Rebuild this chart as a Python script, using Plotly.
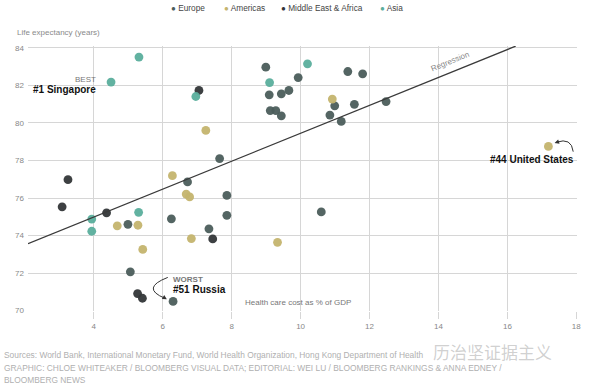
import plotly.graph_objects as go

# ---- data ----
categories = ["Europe", "Americas", "Middle East & Africa", "Asia"]
colors = ["#4b5d5b", "#c4b46e", "#333638", "#5aae9c"]

europe_x = [8.99, 9.93, 9.66, 9.44, 9.09, 9.12, 9.28, 9.44, 11.37, 11.80, 10.99, 11.56, 10.85,
            11.18, 12.48, 7.65, 6.72, 7.86, 6.25, 7.86, 4.99, 7.34, 5.06, 10.60, 6.30]
europe_y = [82.97, 82.42, 81.73, 81.55, 81.50, 80.66, 80.66, 80.38, 82.74, 82.62, 80.91, 80.99, 80.42,
            80.08, 81.14, 78.10, 76.86, 76.14, 74.89, 75.08, 74.60, 74.36, 72.07, 75.26, 70.49]

americas_x = [10.92, 7.25, 6.28, 6.68, 6.78, 4.68, 5.28, 5.42, 6.83, 9.33, 17.19]
americas_y = [81.27, 79.60, 77.19, 76.21, 76.06, 74.52, 74.55, 73.26, 73.84, 73.64, 78.75]

mea_x = [7.05, 3.25, 3.08, 4.37, 7.45, 5.27, 5.41]
mea_y = [81.73, 76.98, 75.53, 75.21, 73.82, 70.91, 70.66]

asia_x = [5.31, 4.50, 6.96, 9.10, 10.20, 5.30, 3.94, 3.94]
asia_y = [83.51, 82.18, 81.41, 82.15, 83.15, 75.24, 74.88, 74.23]

x_ticks = [4, 6, 8, 10, 12, 14, 16, 18]
y_ticks = [70, 72, 74, 76, 78, 80, 82, 84]

reg_intercept = 72.01
reg_slope = 0.744
reg_x = [2.09, 16.24]

singapore = (asia_x[1], asia_y[1])
usa = (americas_x[10], americas_y[10])
russia = (europe_x[24], europe_y[24])

FONT = "Liberation Sans, Arial, sans-serif"

fig = go.Figure()

series = [(europe_x, europe_y), (americas_x, americas_y), (mea_x, mea_y), (asia_x, asia_y)]
for name, col, (xs, ys) in zip(categories, colors, series):
    fig.add_trace(go.Scatter(x=xs, y=ys, mode="markers", name=name, showlegend=False,
                             marker=dict(size=8.8, color=col, opacity=0.95, line=dict(width=0)),
                             cliponaxis=False))

fig.add_trace(go.Scatter(x=reg_x, y=[reg_intercept + reg_slope * v for v in reg_x], mode="lines",
                         line=dict(color="#3a3a3a", width=1.3), showlegend=False, hoverinfo="skip"))

annotations = []
# custom legend
leg_x = [0.2587, 0.3552, 0.4590, 0.6393]
for name, col, lx in zip(categories, colors, leg_x):
    annotations.append(dict(xref="paper", yref="paper", x=lx, y=1.143, xanchor="left", yanchor="middle",
                            text=f"<span style='color:{col};font-size:8px'>●</span> {name}",
                            showarrow=False, borderpad=0, font=dict(family=FONT, size=8.3, color="#444")))

annotations.append(dict(xref="paper", yref="paper", x=-0.0219, y=1.050, xanchor="left", yanchor="middle",
                        text="Life expectancy (years)", showarrow=False, borderpad=0,
                        font=dict(family=FONT, size=8, color="#8a8a8a")))
annotations.append(dict(xref="paper", yref="paper", x=0.491, y=0.031, xanchor="center", yanchor="middle",
                        text="Health care cost as % of GDP", showarrow=False, borderpad=0,
                        font=dict(family=FONT, size=8, color="#777")))

# regression label
reg_lab_x = 14.34
annotations.append(dict(x=reg_lab_x, y=reg_intercept + reg_slope * reg_lab_x, yshift=11, text="Regression",
                        showarrow=False, textangle=-22, font=dict(family=FONT, size=8, color="#888")))

# country labels
annotations += [
    dict(x=singapore[0], y=singapore[1], xshift=-14, yshift=3, xanchor="right", yanchor="middle",
         text="BEST", showarrow=False, borderpad=0, font=dict(family=FONT, size=8, color="#777")),
    dict(x=singapore[0], y=singapore[1], xshift=-14, yshift=-7, xanchor="right", yanchor="middle",
         text="<b>#1 Singapore</b>", showarrow=False, borderpad=0, font=dict(family=FONT, size=10, color="#111")),
    dict(x=usa[0], y=usa[1], xshift=27, yshift=-12.6, xanchor="right", yanchor="middle",
         text="<b>#44 United States</b>", showarrow=False, borderpad=0, font=dict(family=FONT, size=10, color="#111")),
    dict(x=russia[0], y=russia[1], xshift=-0.6, yshift=22, xanchor="left", yanchor="middle",
         text="<b>WORST</b>", showarrow=False, borderpad=0, font=dict(family=FONT, size=8, color="#777")),
    dict(x=russia[0], y=russia[1], xshift=-0.6, yshift=12, xanchor="left", yanchor="middle",
         text="<b>#51 Russia</b>", showarrow=False, borderpad=0, font=dict(family=FONT, size=10, color="#111")),
]
# arrowheads
annotations.append(dict(x=17.37, y=78.93, ax=6, ay=-2, text="", showarrow=True,
                        arrowhead=2, arrowsize=0.9, arrowwidth=1, arrowcolor="#333"))
annotations.append(dict(x=6.12, y=70.6, ax=-5, ay=-3, text="", showarrow=True,
                        arrowhead=2, arrowsize=0.9, arrowwidth=1, arrowcolor="#333"))

# sources
src_lines = [
    "Sources: World Bank, International Monetary Fund, World Health Organization, Hong Kong Department of Health",
    "GRAPHIC: CHLOE WHITEAKER / BLOOMBERG VISUAL DATA; EDITORIAL: WEI LU / BLOOMBERG RANKINGS &amp; ANNA EDNEY /",
    "BLOOMBERG NEWS",
]
for i, line in enumerate(src_lines):
    annotations.append(dict(xref="paper", yref="paper", x=-0.0455, y=-0.166 - 0.048 * i, xanchor="left",
                            yanchor="middle", text=line, showarrow=False, borderpad=0,
                            font=dict(family=FONT, size=8.4, color="#b0b0b0")))
annotations.append(dict(xref="paper", yref="paper", x=0.735, y=-0.153, xanchor="left", yanchor="middle",
                        text="历治坚证据主义", showarrow=False, borderpad=0,
                        font=dict(family="Noto Sans CJK SC", size=17, color="rgba(150,150,150,0.45)")))

shapes = [
    dict(type="path", xref="x", yref="y", path="M 17.91,78.47 Q 17.86,79.25 17.42,78.97",
         line=dict(color="#333", width=1)),
    dict(type="path", xref="x", yref="y", path="M 6.145,71.77 Q 5.35,71.2 6.06,70.66",
         line=dict(color="#333", width=1)),
]

fig.update_layout(
    width=600, height=390,
    margin=dict(l=28, r=23, t=46, b=79),
    paper_bgcolor="white", plot_bgcolor="white",
    showlegend=False,
    annotations=annotations, shapes=shapes,
    xaxis=dict(range=[2.09, 18.02], tickvals=x_ticks, showgrid=True, gridcolor="#d6d6d6", gridwidth=1,
               ticks="outside", ticklen=7, tickcolor="#d6d6d6", zeroline=False, showline=False,
               tickfont=dict(family=FONT, size=8, color="#888")),
    yaxis=dict(range=[69.98, 84.1], tickvals=y_ticks, showgrid=True, gridcolor="#d6d6d6", gridwidth=1,
               zeroline=False, showline=False, ticks="", ticklabelstandoff=3,
               tickfont=dict(family=FONT, size=8, color="#888")),
)

fig.write_html("out.html", config={"displayModeBar": False},
               post_script="document.body.style.margin='0px';document.body.style.overflow='hidden';")
